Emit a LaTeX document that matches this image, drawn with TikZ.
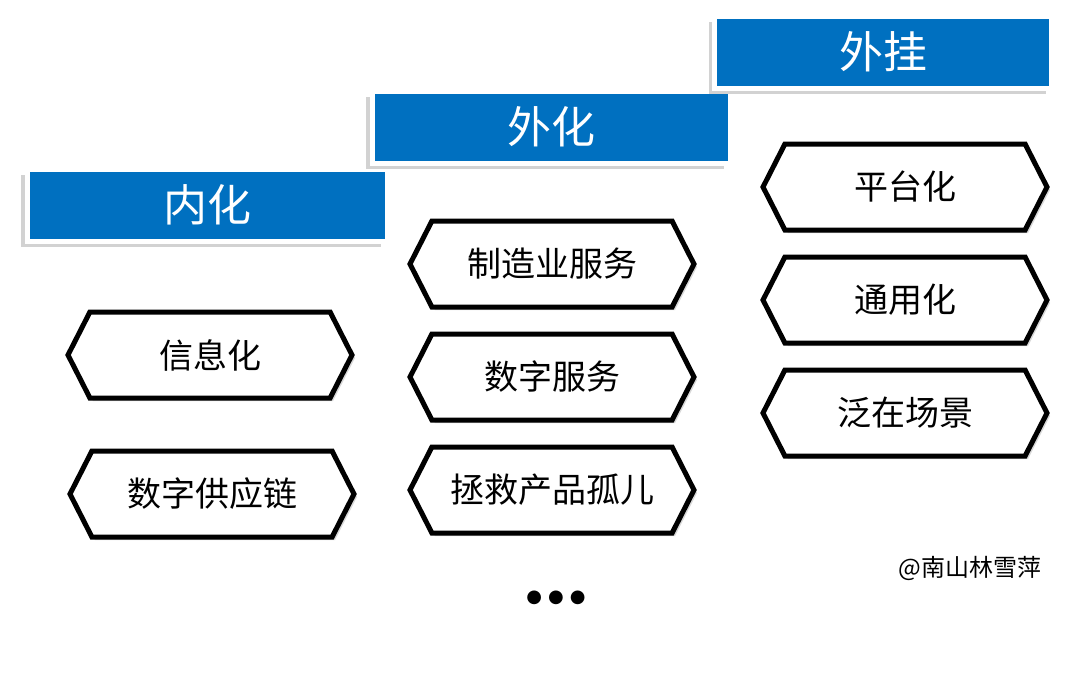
\documentclass[tikz,border=0pt]{standalone}
\usepackage{fontspec}
\newfontfamily\cjk{Noto Sans CJK SC}
\newfontfamily\sym{DejaVu Sans}
\usetikzlibrary{shapes.symbols,shadows}
\definecolor{barblue}{RGB}{0,112,192}
\tikzset{
	stage/.style = {draw=white, line width=5pt, fill=barblue, text=white, font=\cjk\fontsize{44}{44}\selectfont,
		drop shadow={shadow xshift=-6pt, shadow yshift=-6pt, fill=gray!70}},
	hexbox/.style = {signal, signal to=west and east, signal pointer angle=126, draw=black, line width=5pt, fill=white,
		minimum width=284pt, minimum height=86pt, inner sep=0pt, font=\cjk\fontsize{34}{34}\selectfont,
		drop shadow={shadow xshift=3pt, shadow yshift=-3pt, fill=gray!60}}
}
\begin{document}
\begin{tikzpicture}[x=1pt, y=-1pt]
	\useasboundingbox (0,0) rectangle (1080,699);
	% stages
	\node [stage, minimum width=360pt, minimum height=72pt] (inner) at (207,205) {内化};
	\node [stage, minimum width=358pt, minimum height=72pt] (outer) at (551,127) {外化};
	\node [stage, minimum width=337pt, minimum height=72pt] (plugin) at (883,52) {外挂};
	% column 1
	\node [hexbox] (info) at (210,355) {信息化};
	\node [hexbox] (supply) at (212,494) {数字供应链};
	% column 2
	\node [hexbox] (mfg) at (552,264) {制造业服务};
	\node [hexbox] (digital) at (552,377) {数字服务};
	\node [hexbox] (orphan) at (552,490) {拯救产品孤儿};
	% column 3
	\node [hexbox] (platform) at (905,187) {平台化};
	\node [hexbox] (general) at (905,300) {通用化};
	\node [hexbox] (scene) at (905,413) {泛在场景};
	% notes
	\node [font=\cjk\fontsize{24}{24}\selectfont] (credit) at (970,568) {@南山林雪萍};
	\node [font=\sym\fontsize{18}{18}\selectfont] (more) at (556,598) {●\hspace{6pt}●\hspace{6pt}●};
\end{tikzpicture}
\end{document}
